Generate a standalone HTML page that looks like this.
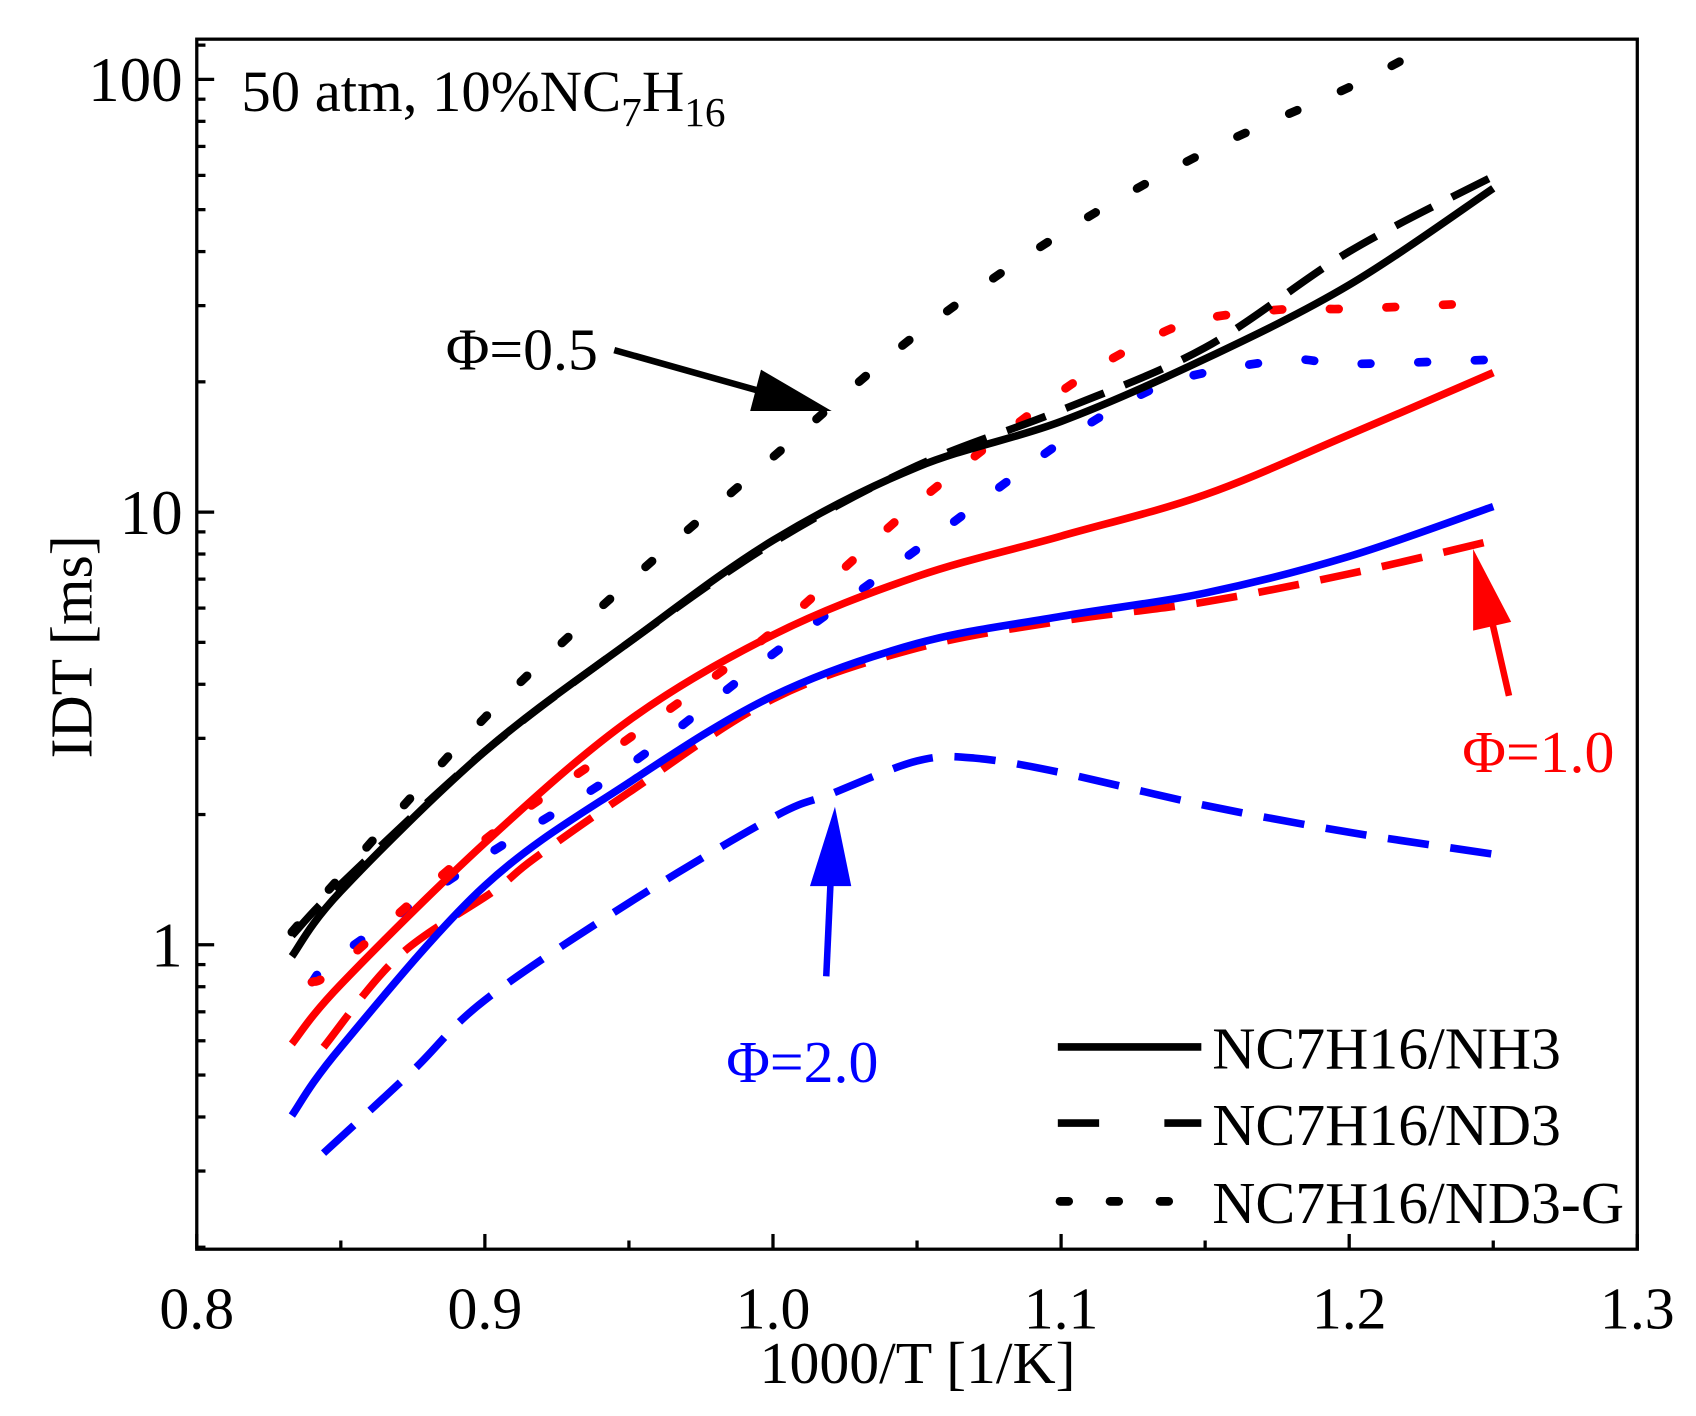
<!DOCTYPE html>
<html><head><meta charset="utf-8"><style>
html,body{margin:0;padding:0;background:#fff;}
svg{display:block;font-family:"Liberation Serif",serif;}
</style></head><body>
<svg id="chart" width="1696" height="1416" viewBox="0 0 1560 1302.4" xmlns="http://www.w3.org/2000/svg">
<rect x="0" y="0" width="1560" height="1303" fill="#fff"/>
<g id="marks"></g>
<rect x="181" y="36" width="1325" height="1113" fill="none" stroke="#000" stroke-width="3"/>
<g id="axes"></g>
<text x="222" y="102" font-size="54">50 atm, 10%NC<tspan font-size="38" dy="14">7</tspan><tspan dy="-14">H</tspan><tspan font-size="38" dy="14">16</tspan></text>
<text x="844" y="1272" font-size="55" text-anchor="middle">1000/T [1/K]</text>
<text transform="translate(84,595) rotate(-90)" font-size="55" text-anchor="middle">IDT [ms]</text>
<g>
<text x="410" y="340" font-size="55">Φ=0.5</text>
<line x1="565" y1="322" x2="700" y2="360" stroke="#000" stroke-width="6"/>
<polygon points="765,378 690,378 700,340" fill="#000"/>
</g>
<g>
<text x="668" y="995" font-size="55" fill="#0000ff">Φ=2.0</text>
<line x1="760" y1="898" x2="764" y2="810" stroke="#0000ff" stroke-width="6"/>
<polygon points="768,742 745,815 783,815" fill="#0000ff"/>
</g>
<g>
<text x="1345" y="710" font-size="55" fill="#ff0000">Φ=1.0</text>
<line x1="1388" y1="640" x2="1372" y2="570" stroke="#ff0000" stroke-width="6"/>
<polygon points="1355,505 1355,580 1390,572" fill="#ff0000"/>
</g>
<g>
<line x1="973" y1="963" x2="1105" y2="963" stroke="#000" stroke-width="7"/>
<text x="1115" y="983" font-size="55">NC7H16/NH3</text>
<line x1="973" y1="1033" x2="1105" y2="1033" stroke="#000" stroke-width="7" stroke-dasharray="38 60"/>
<text x="1115" y="1053" font-size="55">NC7H16/ND3</text>
<line x1="975" y1="1105" x2="1105" y2="1105" stroke="#000" stroke-width="8" stroke-dasharray="8 38" stroke-linecap="round"/>
<text x="1115" y="1125" font-size="55">NC7H16/ND3-G</text>
</g>
</svg>
<script>
const xTicks=[0.8,0.9,1.0,1.1,1.2,1.3];
const xTickLabels=["0.8","0.9","1.0","1.1","1.2","1.3"];
const yTicks=[1,10,100];
const yTickLabels=["1","10","100"];
const xs05=[0.833,0.85,0.9,0.95,1.0,1.05,1.1,1.15,1.2,1.25];
const nh3_05=[0.94,1.33,2.8,5.0,8.6,12.7,16.2,22.6,33.5,56];
const nd3_05=[1.05,1.38,2.8,5.0,8.5,12.8,17.2,24,40,59.7];
const xsG05=[0.833,0.85,0.9,0.95,1.0,1.05,1.1,1.15,1.2,1.225];
const nd3g_05=[1.07,1.44,3.35,6.9,13.4,25.8,44,67.9,95.9,117];
const xs10=[0.833,0.85,0.9,0.95,1.0,1.05,1.1,1.15,1.2,1.25];
const nh3_10=[0.59,0.81,1.72,3.3,5.2,7.1,8.8,10.97,15.1,21];
const xsD=[0.844,0.87,0.903,0.917,0.95,1.0,1.05,1.1,1.15,1.2,1.25];
const nd3_10=[0.58,0.94,1.33,1.58,2.25,3.7,4.85,5.6,6.2,7.2,8.6];
const xsG=[0.84,0.85,0.9,0.95,1.0,1.05,1.1,1.13,1.15,1.18,1.2,1.25];
const nd3g_10=[0.82,0.9,1.75,3.0,5.3,10.5,19,25,28,29.5,29.5,30.5];
const nh3_20=[0.403,0.58,1.37,2.37,3.76,4.97,5.74,6.5,7.9,10.3];
const xsD20=[0.844,0.875,0.9,0.95,1.0,1.02,1.05,1.07,1.1,1.15,1.2,1.25];
const nd3_20=[0.33,0.512,0.745,1.25,1.97,2.23,2.66,2.7,2.5,2.1,1.82,1.62];
const nd3g_20=[0.82,0.95,1.6,2.6,4.7,8.2,14.5,19,21,22.5,22,22.5];

const NS="http://www.w3.org/2000/svg";
function X(v){return 181+(v-0.8)*2650;}
function Y(v){return 869-Math.log10(v)*398;}
function pathD(xv,yv){
  const p=xv.map((x,i)=>[X(x),Y(yv[i])]);
  let d="M"+p[0][0]+","+p[0][1];
  for(let i=0;i<p.length-1;i++){
    const p0=p[Math.max(0,i-1)],p1=p[i],p2=p[i+1],p3=p[Math.min(p.length-1,i+2)];
    const c1=[p1[0]+(p2[0]-p0[0])/6,p1[1]+(p2[1]-p0[1])/6];
    const c2=[p2[0]-(p3[0]-p1[0])/6,p2[1]-(p3[1]-p1[1])/6];
    d+=" C"+c1+" "+c2+" "+p2;
  }
  return d;
}
const marks=document.getElementById("marks");
function series(name,xv,yv,color,style){
  const el=document.createElementNS(NS,"path");
  el.setAttribute("d",pathD(xv,yv));
  el.setAttribute("fill","none");
  el.setAttribute("stroke",color);
  el.setAttribute("stroke-width",style==="dot"?"8":"7");
  if(style==="dash")el.setAttribute("stroke-dasharray","38 20");
  if(style==="dot"){el.setAttribute("stroke-dasharray","8 44");el.setAttribute("stroke-linecap","round");}
  
  
  marks.appendChild(el);
}
series("nd3g-phi20",xsG,nd3g_20,"#0000ff","dot");
series("nd3g-phi10",xsG,nd3g_10,"#ff0000","dot");
series("nd3g-phi05",xsG05,nd3g_05,"#000","dot");
series("nd3-phi20",xsD20,nd3_20,"#0000ff","dash");
series("nd3-phi10",xsD,nd3_10,"#ff0000","dash");
series("nd3-phi05",xs05,nd3_05,"#000","dash");
series("nh3-phi20",xs10,nh3_20,"#0000ff","solid");
series("nh3-phi10",xs10,nh3_10,"#ff0000","solid");
series("nh3-phi05",xs05,nh3_05,"#000","solid");

const axes=document.getElementById("axes");
function line(x1,y1,x2,y2,w){
  const l=document.createElementNS(NS,"line");
  l.setAttribute("x1",x1);l.setAttribute("y1",y1);l.setAttribute("x2",x2);l.setAttribute("y2",y2);
  l.setAttribute("stroke","#000");l.setAttribute("stroke-width",w);
  
  
  axes.appendChild(l);
}
function txt(x,y,s,anchor,name,fs){
  const t=document.createElementNS(NS,"text");
  t.setAttribute("x",x);t.setAttribute("y",y);t.setAttribute("font-size",fs);t.setAttribute("text-anchor",anchor);
  t.textContent=s;
  
  
  axes.appendChild(t);
}
xTicks.forEach((v,i)=>{
  line(X(v),1149,X(v),1135,3);
  txt(X(v),1222,xTickLabels[i],"middle","x-tick-label",55);
  if(i<xTicks.length-1)line(X(v+0.05),1149,X(v+0.05),1141,3);
});
yTicks.forEach((v,i)=>{
  line(181,Y(v),197,Y(v),3);
  txt(168,Y(v)+20,yTickLabels[i],"end","y-tick-label",58);
});
[0.2,0.3,0.4,0.5,0.6,0.7,0.8,0.9,2,3,4,5,6,7,8,9,20,30,40,50,60,70,80,90,120].forEach(v=>{
  const y=Y(v); if(y>36&&y<1149)line(181,y,189,y,3);
});
</script>
</body></html>
